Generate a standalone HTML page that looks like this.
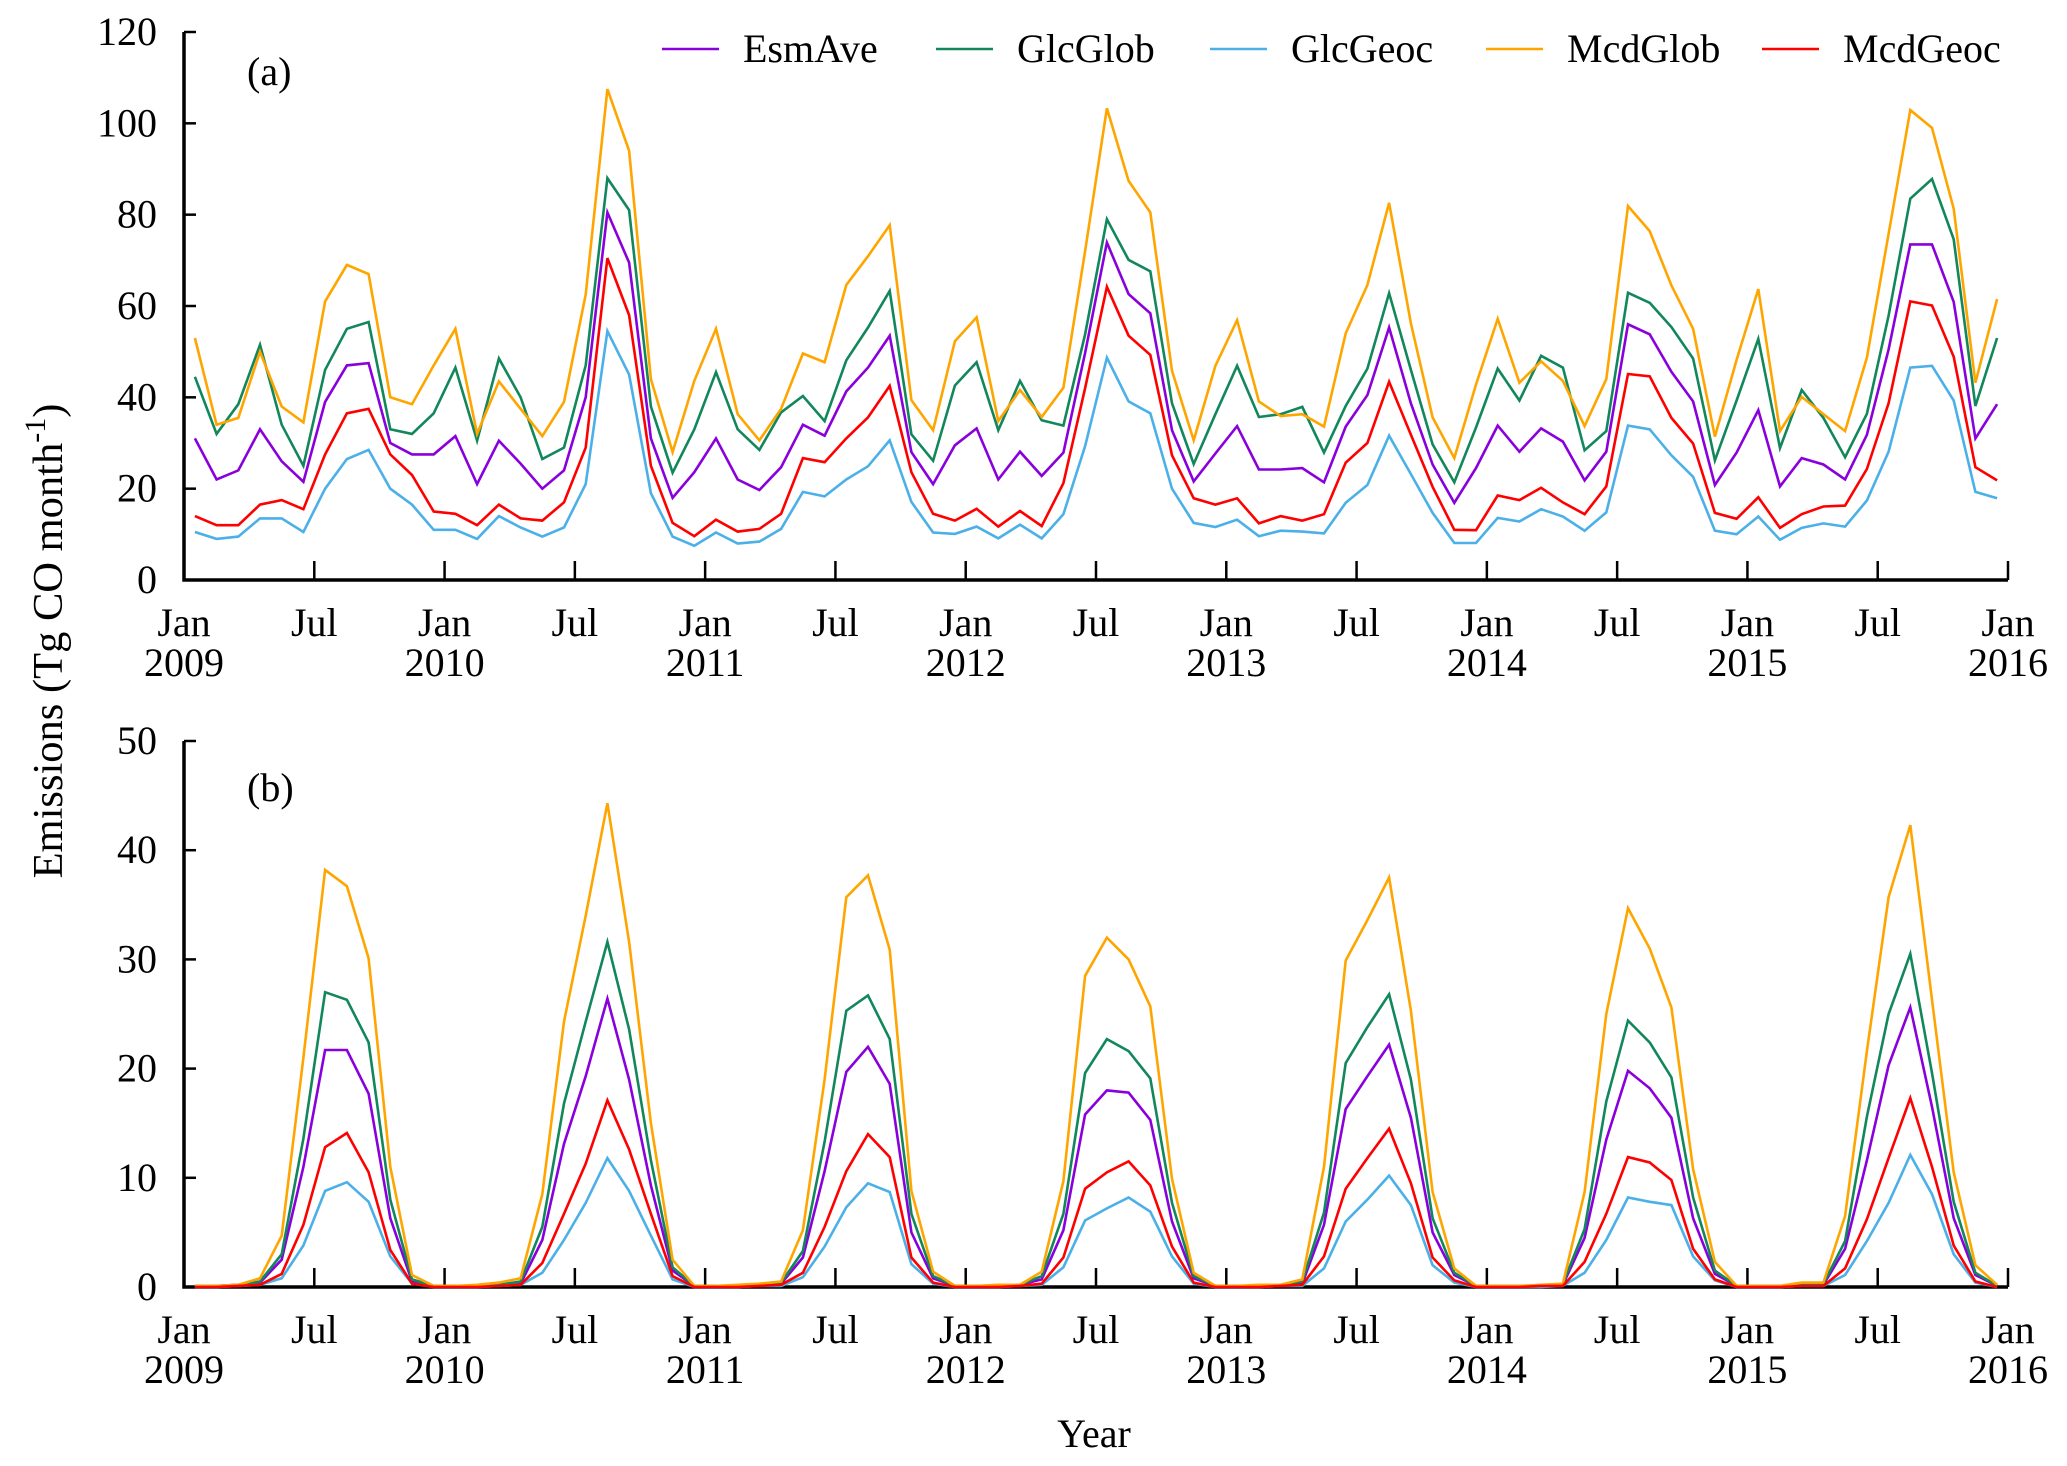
<!DOCTYPE html>
<html><head><meta charset="utf-8"><style>
html,body{margin:0;padding:0;background:#fff;}
svg{display:block;font-family:"Liberation Serif",serif;}
</style></head><body>
<svg id="chart" width="2067" height="1466" viewBox="0 0 2067 1466" xmlns="http://www.w3.org/2000/svg">
<g id="axes"></g>
<g id="series"></g>
<text x="62" y="641" font-size="42.5" text-anchor="middle" transform="rotate(-90 62 641)">Emissions (Tg CO month<tspan dy="-17" font-size="30">-1</tspan><tspan dy="17">)</tspan></text>
<text x="1094" y="1447" font-size="40" text-anchor="middle">Year</text>
<text x="247" y="85" font-size="40">(a)</text>
<text x="247" y="801" font-size="40">(b)</text>
<g id="legend"></g>
</svg>
<script>
const seriesNames = ["EsmAve","GlcGlob","GlcGeoc","McdGlob","McdGeoc"];
const seriesColors = ["#8a00dc","#12875c","#4cb0e8","#ffa500","#ff0000"];
const yearLabels = ["2009","2010","2011","2012","2013","2014","2015","2016"];
const ticksA = [0,20,40,60,80,100,120];
const ticksB = [0,10,20,30,40,50];

const esmA = [31,22,24,33,26,21.5,39,47,47.5,30,27.5,27.5,31.5,21,30.5,25.5,20,24,40,80.5,69.5,31,18,23.6,
31,22,19.7,24.7,34,31.6,41.3,46.5,53.5,28,21,29.5,33.2,22,28.1,22.8,27.9,49.7,73.9,62.6,58.4,
32.8,21.6,27.7,33.7,24.2,24.2,24.5,21.4,33.6,40.5,55.3,38.7,25.3,16.9,24.5,33.8,28.1,33.2,30.3,21.8,28.1,56,
53.8,45.6,39.1,20.8,27.9,37.2,20.5,26.7,25.3,22,31.8,50.5,73.5,73.5,60.9,31,38.5];
const glcGlobA = [44.5,32,38.5,51.5,34,25,46,55,56.5,33,32,36.5,46.5,30.5,48.5,40,26.5,29,47,88,81,38,23.5,33,
45.5,33,28.5,36.7,40.3,34.8,48.1,55.3,63.3,31.9,26.1,42.6,47.7,32.8,43.6,35,33.8,53.8,79,70.1,67.6,
38.7,25.4,36.3,46.9,35.7,36.3,37.9,27.9,38.1,46.3,62.8,46,29.7,21.4,33.4,46.3,39.3,49.1,46.5,28.4,32.6,62.9,
60.7,55.4,48.5,26.2,39.3,52.8,28.9,41.6,35.5,26.9,36.4,57.9,83.5,87.8,74.6,38.1,53];
const glcGeocA = [10.5,9,9.5,13.5,13.5,10.5,20,26.5,28.5,20,16.5,11,11,9,14,11.5,9.5,11.5,21,54.5,45,19,9.5,7.5,
10.4,8,8.4,11.2,19.3,18.3,22,24.9,30.6,17.1,10.4,10.1,11.7,9.1,12.1,9.1,14.4,29.3,48.7,39.1,36.5,
20,12.5,11.6,13.2,9.6,10.8,10.6,10.2,16.9,20.8,31.6,23.2,14.7,8.1,8.1,13.6,12.8,15.5,13.9,10.8,14.8,33.8,
33,27.3,22.6,10.8,10,13.9,8.8,11.4,12.4,11.7,17.4,28.1,46.5,46.9,39.3,19.3,17.9];
const mcdGlobA = [53,34,35.5,50,38,34.5,61,69,67,40,38.5,47,55,32,43.5,37.5,31.5,39,62.5,107.5,94,44,28,43.6,
55,36.3,30.6,37.5,49.6,47.7,64.6,70.9,77.7,39.4,32.8,52.3,57.5,34.8,41.6,35.7,42.1,72,103.3,87.4,80.5,
45.8,30.6,46.9,56.9,39.1,35.9,36.3,33.6,54,64.6,82.6,56.2,35.6,26.7,42.8,57.2,43.2,47.9,43.6,33.7,44,81.9,
76.4,64.5,55,31.4,48.2,63.7,32.6,40.1,36.3,32.6,48.7,75.8,102.9,99,81.3,43.2,61.5];
const mcdGeocA = [14,12,12,16.5,17.5,15.5,27.5,36.5,37.5,27.5,23,15,14.5,12,16.5,13.5,13,17,29,70.5,58,25,12.5,9.6,
13.2,10.6,11.2,14.5,26.7,25.8,31,35.6,42.5,23.6,14.5,13,15.6,11.7,15.1,11.8,21.2,42,64.2,53.5,49.3,
27.3,17.9,16.5,17.9,12.4,14,13,14.4,25.7,30,43.4,31.8,20.4,11,10.9,18.5,17.5,20.2,17,14.4,20.5,45.1,
44.6,35.5,29.9,14.7,13.4,18.1,11.4,14.4,16.1,16.3,24.3,38.7,61,60.1,48.9,24.7,21.8];

const esmB = [0.1,0.1,0.2,0.4,2.5,11,21.7,21.7,17.7,6.3,0.5,0.1,
0.1,0.1,0.2,0.3,4.3,13.1,19.3,26.4,19,9.3,1.5,0.1,
0.1,0.1,0.2,0.3,2.7,10.6,19.7,22,18.6,5,0.8,0.1,
0.1,0.1,0.2,0.7,5.2,15.8,18,17.8,15.3,6,0.8,0.1,
0.1,0.1,0.2,0.3,5.7,16.3,19.3,22.2,15.5,5,1.1,0.1,
0.1,0.1,0.1,0.2,4.5,13.5,19.8,18.2,15.5,6.3,1.2,0.1,
0.1,0.1,0.2,0.2,3.5,11.6,20.3,25.6,16.5,6.3,1.1,0.1];
const glcGlobB = [0.1,0.1,0.2,0.5,3,13.6,27,26.3,22.4,8,0.7,0.1,
0.1,0.1,0.2,0.5,5.5,16.8,24.3,31.6,23.6,11.6,1.8,0.1,
0.1,0.1,0.2,0.4,3.3,13.3,25.3,26.7,22.7,6.7,1,0.1,
0.1,0.1,0.2,1,6.7,19.6,22.7,21.6,19.1,7.7,1,0.1,
0.1,0.1,0.2,0.5,6.8,20.5,23.8,26.8,19,6.3,1.3,0.1,
0.1,0.1,0.1,0.3,5.3,17,24.4,22.4,19.2,8.2,1.5,0.1,
0.1,0.1,0.2,0.3,4.2,15.6,25,30.5,19.6,7.8,1.3,0.1];
const glcGeocB = [0,0,0.1,0.2,0.8,3.8,8.8,9.6,7.8,2.8,0.3,0,
0,0,0.1,0.2,1.3,4.3,7.7,11.8,8.8,4.7,0.7,0,
0,0,0.1,0.1,0.9,3.7,7.3,9.5,8.7,2.1,0.3,0,
0,0,0.1,0.2,1.8,6.1,7.2,8.2,6.9,2.8,0.3,0,
0,0,0.1,0.1,1.7,6,8,10.2,7.5,2,0.4,0,
0,0,0,0.1,1.3,4.3,8.2,7.8,7.5,2.8,0.6,0,
0,0,0.1,0.1,1.1,4.2,7.7,12.1,8.5,3,0.4,0];
const mcdGlobB = [0.1,0.1,0.2,0.8,4.7,21,38.2,36.7,30.1,11,1.1,0.1,
0.1,0.2,0.4,0.8,8.5,24.3,34,44.3,31.6,15,2.5,0.1,
0.1,0.2,0.3,0.5,5.2,19,35.7,37.7,30.9,8.8,1.4,0.1,
0.1,0.2,0.2,1.4,9.7,28.5,32,30,25.7,9.9,1.3,0.1,
0.1,0.2,0.2,0.7,11,29.9,33.6,37.5,25.3,8.7,1.7,0.1,
0.1,0.1,0.2,0.3,8.7,25,34.7,31,25.6,10.8,2.3,0.1,
0.1,0.1,0.4,0.4,6.5,21.6,35.7,42.3,26.3,10.5,2,0.2];
const mcdGeocB = [0,0,0.1,0.2,1.2,5.7,12.8,14.1,10.5,3.4,0.3,0,
0,0,0.1,0.2,2.2,6.7,11.3,17.1,12.6,6.7,1,0,
0,0,0.1,0.2,1.3,5.5,10.6,14,11.9,2.7,0.4,0,
0,0,0.1,0.3,2.7,9,10.5,11.5,9.3,3.7,0.4,0,
0,0,0.1,0.2,2.8,9,11.8,14.5,9.5,2.7,0.6,0,
0,0,0.1,0.1,2.3,6.7,11.9,11.4,9.8,3.5,0.7,0,
0,0,0.1,0.1,1.7,6.2,11.8,17.3,11,3.8,0.5,0];

const NS = "http://www.w3.org/2000/svg";
const X0 = 184, X1 = 2008, NM = 84;
function xPos(m){ return X0 + m*(X1-X0)/NM; }
const panels = [
  {key:"a", y0:580, yTop:32, max:120, ticks:ticksA, series:[esmA,glcGlobA,glcGeocA,mcdGlobA,mcdGeocA]},
  {key:"b", y0:1287, yTop:741, max:50, ticks:ticksB, series:[esmB,glcGlobB,glcGeocB,mcdGlobB,mcdGeocB]}
];
function mk(tag, attrs, parent){
  const e = document.createElementNS(NS, tag);
  for (const k in attrs) e.setAttribute(k, attrs[k]);
  parent.appendChild(e); return e;
}
const axesG = document.getElementById("axes");
const serG = document.getElementById("series");
panels.forEach(p=>{
  const yPos = v => p.y0 - v*(p.y0-p.yTop)/p.max;
  const ax = mk("path",{d:`M${X0},${p.yTop} L${X0},${p.y0} L${X1},${p.y0}`,fill:"none",stroke:"#000","stroke-width":3.5},axesG);
  
  
  p.ticks.forEach(t=>{
    const y = yPos(t);
    const tl = mk("line",{x1:X0,x2:X0+12,y1:y,y2:y,stroke:"#000","stroke-width":2.5},axesG);
    
    
    const tx = mk("text",{x:157,y:y+13,"font-size":40,"text-anchor":"end"},axesG);
    tx.textContent = t;
    
    
  });
  for (let h=0; h<=14; h++){
    const x = xPos(h*6);
    const tk = mk("line",{x1:x,x2:x,y1:p.y0,y2:p.y0-19,stroke:"#000","stroke-width":2.5},axesG);
    
    
    const lb = mk("text",{x:x,y:p.y0+56,"font-size":40,"text-anchor":"middle"},axesG);
    lb.textContent = (h%2===0) ? "Jan" : "Jul";
    
    
    if (h%2===0){
      const yr = mk("text",{x:x,y:p.y0+96,"font-size":40,"text-anchor":"middle"},axesG);
      yr.textContent = yearLabels[h/2];
      
      
    }
  }
  p.series.forEach((vals,si)=>{
    const pts = vals.map((v,i)=>xPos(i+0.5).toFixed(1)+","+yPos(v).toFixed(1)).join(" ");
    const pl = mk("polyline",{points:pts,fill:"none",stroke:seriesColors[si],"stroke-width":2.6,"stroke-linejoin":"miter"},serG);
    
    
  });
});
const legG = document.getElementById("legend");
const legLineX = [662,936,1210,1486,1762];
seriesNames.forEach((n,i)=>{
  const ln = mk("line",{x1:legLineX[i],x2:legLineX[i]+57,y1:49,y2:49,stroke:seriesColors[i],"stroke-width":2.6},legG);
  
  
  const t = mk("text",{x:legLineX[i]+81,y:62,"font-size":40},legG);
  t.textContent = n;
  
  
});
</script>
</body></html>
